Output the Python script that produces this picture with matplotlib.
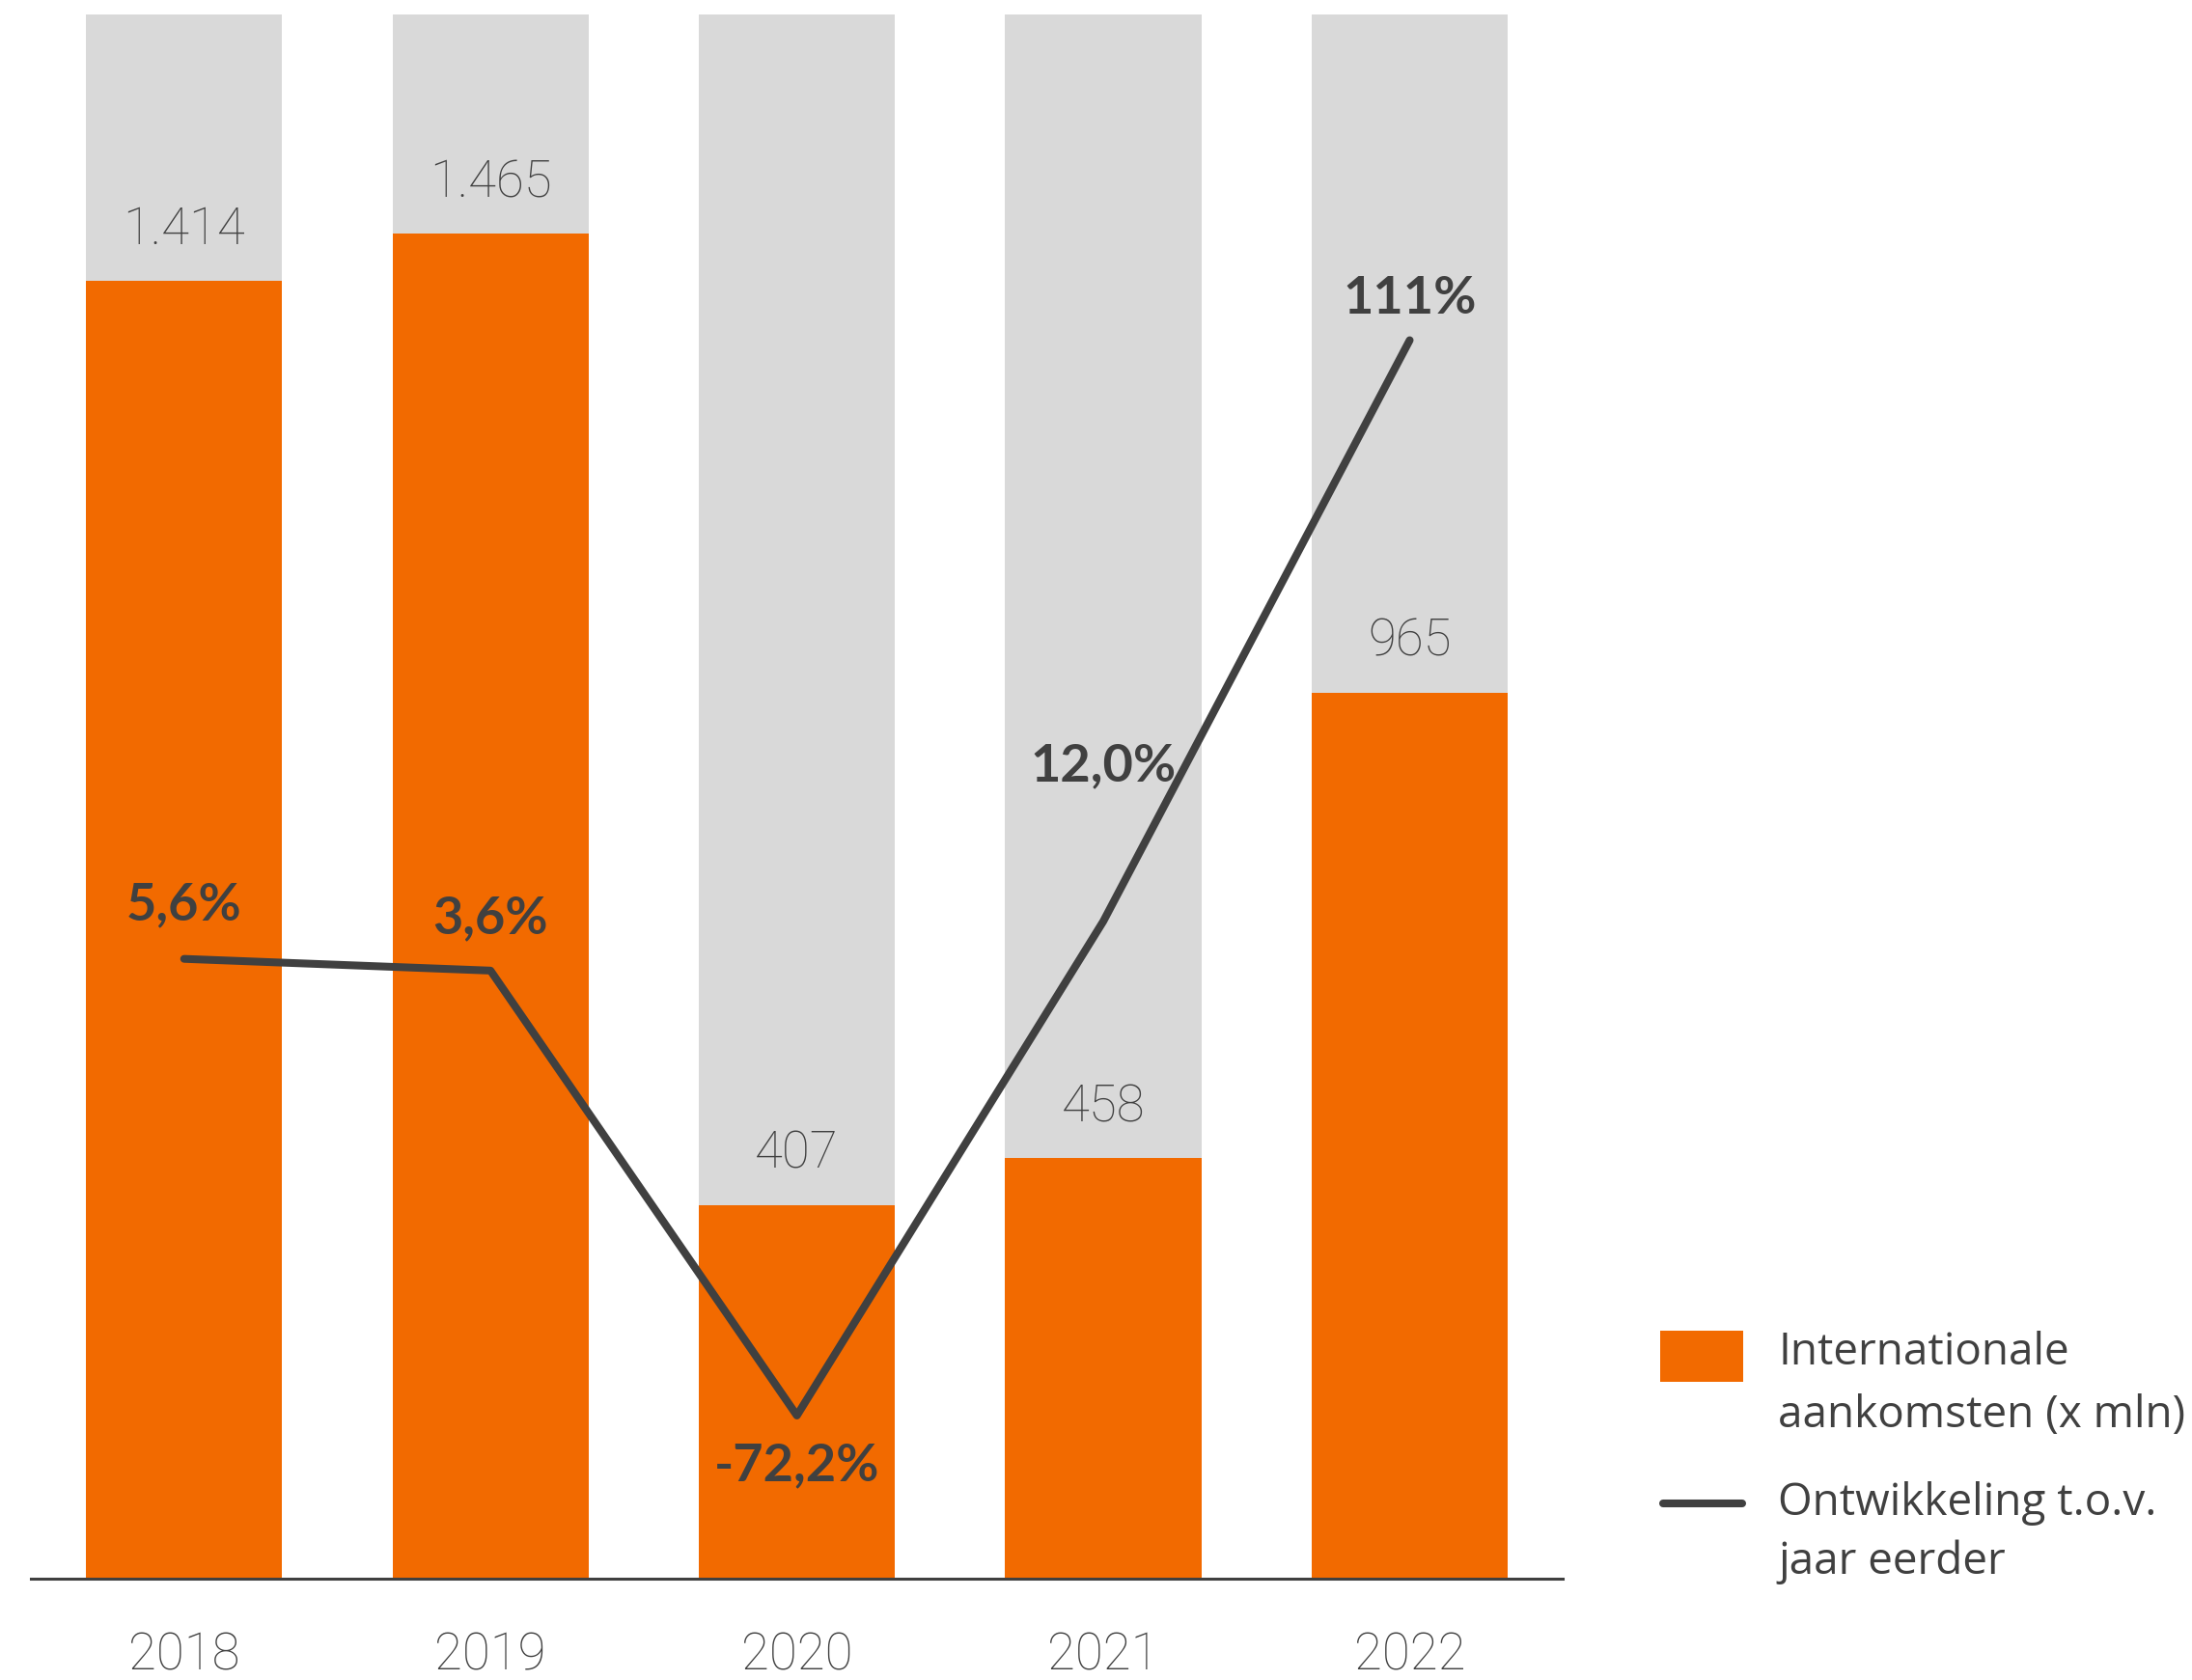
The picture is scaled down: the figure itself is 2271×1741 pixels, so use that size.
import numpy as np
import matplotlib.pyplot as plt
from matplotlib.patches import Rectangle
from matplotlib.lines import Line2D

# data
years = ['2018', '2019', '2020', '2021', '2022']
arrivals = [1414, 1465, 407, 458, 965]
arrival_labels = ['1.414', '1.465', '407', '458', '965']
growth = [5.6, 3.6, -72.2, 12.0, 111]
growth_labels = ['5,6%', '3,6%', '-72,2%', '12,0%', '111%']
legend_labels = [['Internationale', 'aankomsten (x mln)'],
                 ['Ontwikkeling t.o.v.', 'jaar eerder']]

orange = '#F26A00'
grey = '#D9D9D9'
dark = '#404040'

fig = plt.figure(figsize=(22.71, 17.41), dpi=100)
ax = fig.add_axes([0.0141, 0.0603, 0.6989, 0.9311])

x = np.arange(len(years))
ymax = 1704
ax.bar(x, [ymax] * len(x), width=0.64, color=grey, zorder=1)
ax.bar(x, arrivals, width=0.64, color=orange, zorder=2)
ax.set_xlim(-0.5, 4.5)
ax.set_ylim(0, ymax)

for xi, v, lab in zip(x, arrivals, arrival_labels):
    ax.annotate(lab, (xi, v), xytext=(0, 38), textcoords='offset points',
                ha='center', va='center', fontsize=38, color=dark,
                family='Roboto', fontweight='light')

for s in ['top', 'left', 'right']:
    ax.spines[s].set_visible(False)
ax.spines['bottom'].set_color(dark)
ax.spines['bottom'].set_linewidth(2.2)
ax.spines['bottom'].set_zorder(3)
ax.set_yticks([])
ax.set_xticks(x)
ax.set_xticklabels(years, fontsize=38, color=dark, family='Roboto', fontweight='light')
ax.tick_params(axis='x', length=0, pad=39)

# growth line on second axis
ax2 = ax.twinx()
ax2.plot(x, growth, color=dark, lw=5.8, solid_capstyle='round', solid_joinstyle='round', zorder=4)
ax2.set_ylim(-100, 166.5)
ax2.axis('off')

offsets = [40, 39, -37, 116, 31]
for xi, g, lab, off in zip(x, growth, growth_labels, offsets):
    ax2.annotate(lab, (xi, g), xytext=(0, off), textcoords='offset points',
                 ha='center', va='center', fontsize=39, color=dark,
                 family='Lato', fontweight='bold')

# legend, drawn by hand so the key sits on the first text line
fig.add_artist(Rectangle((0.7574, 0.1775), 0.0378, 0.0304, transform=fig.transFigure,
                         facecolor=orange, edgecolor='none'))
fig.add_artist(Line2D([0.7585, 0.7950], [0.1051, 0.1051], transform=fig.transFigure,
                      color=dark, lw=5.8, solid_capstyle='round'))
line_y = [[0.1947, 0.1574], [0.1051, 0.0701]]
for lines, ys in zip(legend_labels, line_y):
    for txt, yy in zip(lines, ys):
        fig.text(0.8111, yy, txt, ha='left', va='center', fontsize=33,
                 color=dark, family='Open Sans')

plt.savefig('out.png', dpi=100)
